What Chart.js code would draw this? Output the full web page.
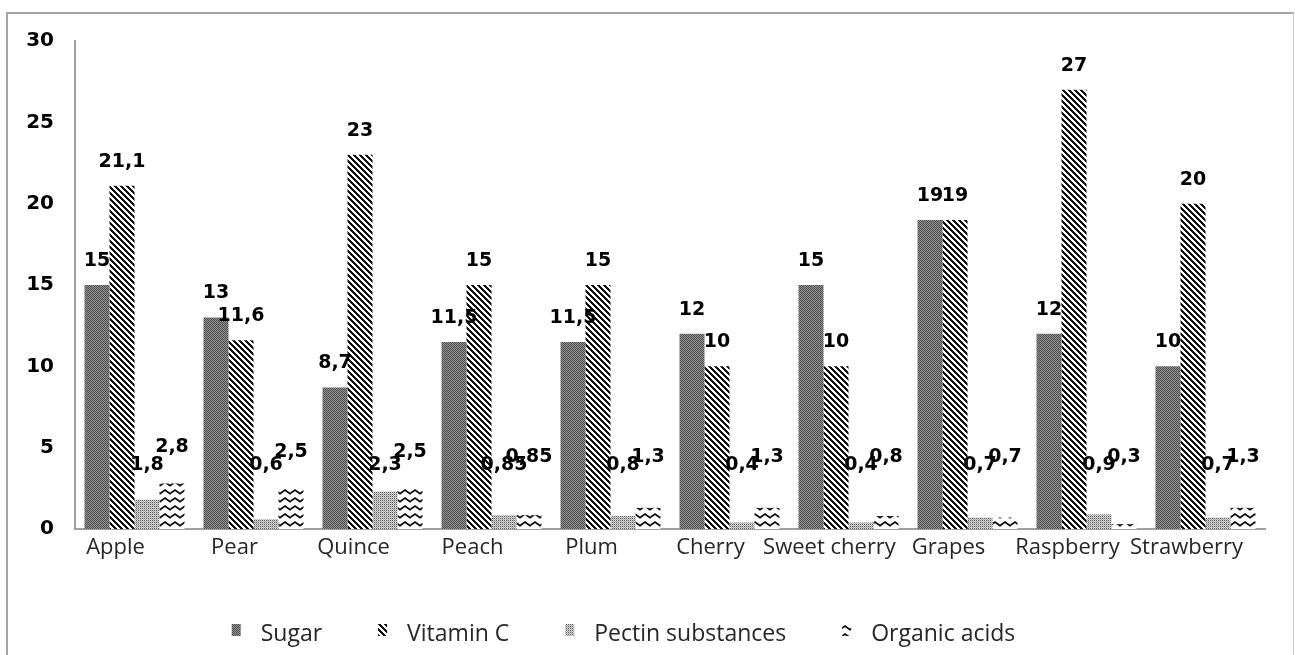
<!DOCTYPE html>
<html>
<head>
<meta charset="utf-8">
<script src="https://cdn.jsdelivr.net/npm/chart.js@4/dist/chart.umd.min.js"></script>
<style>
  html, body { margin: 0; padding: 0; background: #fff; }
  #wrap { position: relative; width: 1295px; height: 655px; overflow: hidden; }
  #frame { position: absolute; left: 6px; top: 12px; width: 1285px; height: 700px; border: 2px solid #a6a6a6; border-right: 1px solid #c8c8c8; }
  canvas { position: absolute; left: 0; top: 0; }
</style>
</head>
<body>
<div id="wrap">
  <div id="frame"></div>
  <canvas id="c" width="1295" height="655"></canvas>
</div>
<script>
const categories = ['Apple', 'Pear', 'Quince', 'Peach', 'Plum', 'Cherry', 'Sweet cherry', 'Grapes', 'Raspberry', 'Strawberry'];
const seriesNames = ['Sugar', 'Vitamin C', 'Pectin substances', 'Organic acids'];
const sugar = [15, 13, 8.7, 11.5, 11.5, 12, 15, 19, 12, 10];
const vitaminC = [21.1, 11.6, 23, 15, 15, 10, 10, 19, 27, 20];
const pectin = [1.8, 0.6, 2.3, 0.85, 0.8, 0.4, 0.4, 0.7, 0.9, 0.7];
const organicAcids = [2.8, 2.5, 2.5, 0.85, 1.3, 1.3, 0.8, 0.7, 0.3, 1.3];
const yTicks = [0, 5, 10, 15, 20, 25, 30];

function makeTile(w, h, draw) {
  const c = document.createElement('canvas');
  c.width = w; c.height = h;
  const g = c.getContext('2d');
  g.fillStyle = '#ffffff';
  g.fillRect(0, 0, w, h);
  draw(g);
  return document.getElementById('c').getContext('2d').createPattern(c, 'repeat');
}
const sugarPattern = makeTile(2, 2, g => {
  g.fillStyle = '#4e4e4e'; g.fillRect(0, 0, 1, 1); g.fillRect(1, 1, 1, 1);
  g.fillStyle = '#929292'; g.fillRect(1, 0, 1, 1); g.fillRect(0, 1, 1, 1);
});
const vitPattern = makeTile(6, 6, g => {
  g.fillStyle = '#111';
  for (let i = 0; i < 6; i++) {
    g.fillRect(i, i, 1, 1); g.fillRect((i + 1) % 6, i, 1, 1); g.fillRect((i + 2) % 6, i, 1, 1);
  }
});
const pectinPattern = makeTile(2, 2, g => {
  g.fillStyle = '#5a5a5a'; g.fillRect(0, 0, 1, 1);
  g.fillStyle = '#d8d8d8'; g.fillRect(1, 0, 1, 1); g.fillRect(0, 1, 1, 1);
  g.fillStyle = '#a8a8a8'; g.fillRect(1, 1, 1, 1);
});
const organicPattern = makeTile(10, 8, g => {
  g.strokeStyle = '#111'; g.lineWidth = 1.8;
  g.beginPath(); g.moveTo(-0.5, 6); g.lineTo(5, 2); g.lineTo(10.5, 6); g.stroke();
});
const patterns = [sugarPattern, vitPattern, pectinPattern, organicPattern];

// label placement rule per series: [minimum value used for anchor, pixel lift]
const labelRule = [[0, 24], [0, 24], [2.6, 22], [2.2, 36]];

const valueLabels = {
  id: 'valueLabels',
  afterDatasetsDraw(chart) {
    const ctx = chart.ctx;
    const y = chart.scales.y;
    ctx.save();
    ctx.font = 'bold 19px "DejaVu Sans"';
    ctx.fillStyle = '#000';
    ctx.textAlign = 'center';
    ctx.textBaseline = 'middle';
    chart.data.datasets.forEach((ds, di) => {
      const meta = chart.getDatasetMeta(di);
      meta.data.forEach((bar, i) => {
        const v = ds.data[i];
        const [minV, lift] = labelRule[di];
        const py = y.getPixelForValue(Math.max(v, minV)) - lift;
        ctx.fillText(String(v).replace('.', ','), bar.x, py);
      });
    });
    ctx.restore();
  }
};

const patternLegend = {
  id: 'patternLegend',
  afterDraw(chart) {
    const ctx = chart.ctx;
    ctx.save();
    ctx.font = '23px "Open Sans"';
    ctx.textBaseline = 'middle';
    ctx.textAlign = 'left';
    const boxW = 9, boxH = 12, gap = 20, spacing = 56;
    const items = chart.data.datasets.map(ds => ({ text: ds.label, bg: ds.backgroundColor, w: boxW + gap + ctx.measureText(ds.label).width }));
    const total = items.reduce((s, it) => s + it.w, 0) + spacing * (items.length - 1);
    let x = chart.width / 2 - 24 - total / 2;
    const cy = 634;
    items.forEach(it => {
      ctx.fillStyle = it.bg;
      ctx.fillRect(x, cy - 10, boxW, boxH);
      ctx.fillStyle = '#262626';
      ctx.fillText(it.text, x + boxW + gap, cy);
      x += it.w + spacing;
    });
    ctx.restore();
  }
};

const datasetValues = [sugar, vitaminC, pectin, organicAcids];
new Chart(document.getElementById('c'), {
  type: 'bar',
  data: {
    labels: categories,
    datasets: seriesNames.map((name, k) => ({
      label: name,
      data: datasetValues[k],
      backgroundColor: patterns[k],
      borderWidth: 0,
      categoryPercentage: 0.84,
      barPercentage: 1.0
    }))
  },
  options: {
    responsive: false,
    animation: false,
    devicePixelRatio: 1,
    layout: { padding: { top: 41, right: 30, bottom: 0, left: 0 } },
    plugins: { legend: { display: false }, tooltip: { enabled: false } },
    scales: {
      x: {
        grid: { display: false, drawTicks: false },
        border: { display: true, color: '#a0a0a0', width: 2 },
        ticks: { color: '#262626', font: { family: 'Open Sans', size: 22 }, padding: 6, labelOffset: -19, maxRotation: 0, autoSkip: false },
        afterFit(scale) { scale.height = 126; }
      },
      y: {
        min: 0, max: 30,
        afterBuildTicks(scale) { scale.ticks = yTicks.map(v => ({ value: v })); },
        grid: { display: false, drawTicks: false },
        border: { display: true, color: '#a0a0a0', width: 2 },
        ticks: { color: '#000', font: { family: 'DejaVu Sans', size: 20, weight: 'bold' }, padding: 21 },
        afterFit(scale) { scale.width = 75; }
      }
    }
  },
  plugins: [valueLabels, patternLegend]
});
</script>
</body>
</html>
